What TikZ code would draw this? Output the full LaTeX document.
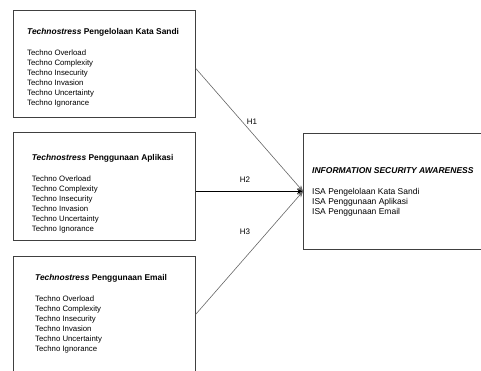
\documentclass[tikz,border=0pt]{standalone}
\usepackage{fontspec}
\setmainfont{Liberation Sans}
\usetikzlibrary{arrows.meta}
\tikzset{
    kotak/.style={draw=black!75, line width=0.7pt, anchor=north west, inner sep=0pt},
    isi/.style={anchor=north west, align=left, inner sep=0pt, font=\fontsize{7.8}{10}\selectfont},
    panah/.style={draw=black!60, line width=0.6pt, -{Stealth[length=6pt,width=5pt]}},
    hlabel/.style={font=\fontsize{8}{10}\selectfont}
}
\newcommand{\judul}[2]{{\fontsize{8.4}{10}\selectfont\bfseries\textit{#1} #2}}

\begin{document}
\begin{tikzpicture}[x=1pt,y=-1pt]
	\useasboundingbox (0,0) rectangle (481,370);
	\clip (0,0) rectangle (481,370);
	\begin{scope}
	\node[kotak, minimum width=182pt, minimum height=107pt] (kata) at (13,10) {};
	\node[kotak, minimum width=182pt, minimum height=108pt] (apl) at (13,132) {};
	\node[kotak, minimum width=182pt, minimum height=116pt] (email) at (13,256) {};
	\node[kotak, minimum width=190pt, minimum height=116pt] (isa) at (303,133) {};
	\end{scope}
%	isi kotak
\node[isi] (katatxt) at (27,28.5) {\judul{Technostress}{Pengelolaan Kata Sandi}\\[11pt]
	Techno Overload\\ Techno Complexity\\ Techno Insecurity\\ Techno Invasion\\ Techno Uncertainty\\ Techno Ignorance};
\node[isi] (apltxt) at (31.7,154.5) {\judul{Technostress}{Penggunaan Aplikasi}\\[11pt]
	Techno Overload\\ Techno Complexity\\ Techno Insecurity\\ Techno Invasion\\ Techno Uncertainty\\ Techno Ignorance};
\node[isi] (emailtxt) at (35,273.8) {\judul{Technostress}{Penggunaan Email}\\[11pt]
	Techno Overload\\ Techno Complexity\\ Techno Insecurity\\ Techno Invasion\\ Techno Uncertainty\\ Techno Ignorance};
\node[isi, font=\fontsize{8.5}{10.2}\selectfont] (isatxt) at (312,167.5) {\textbf{\textit{INFORMATION SECURITY AWARENESS}}\\[10.6pt]
	ISA Pengelolaan Kata Sandi\\ ISA Penggunaan Aplikasi\\ ISA Penggunaan Email};
%	hipotesis
\draw[panah] ([yshift=-4.5pt]kata.east) -- (isa.west);
\draw[panah, draw=black, line width=0.8pt] ([yshift=-5pt]apl.east) -- (isa.west);
\draw[panah] (email.east) -- (isa.west);
\node[hlabel] (h1) at (252,122) {H1};
\node[hlabel] (h2) at (245,180) {H2};
\node[hlabel] (h3) at (245,232) {H3};
\end{tikzpicture}
\end{document}
